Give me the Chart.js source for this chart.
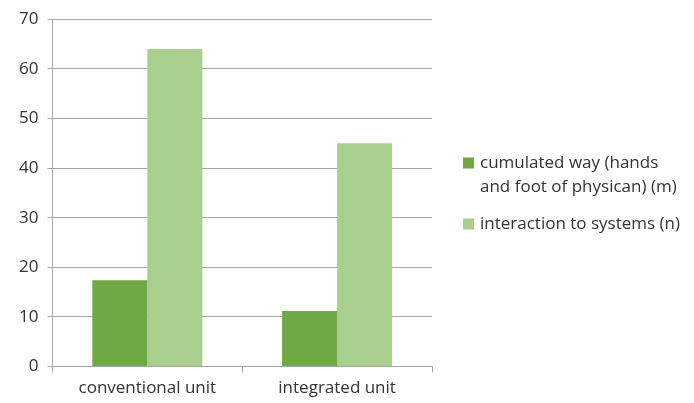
<!DOCTYPE html>
<html>
<head>
<meta charset="utf-8">
<script src="https://cdn.jsdelivr.net/npm/chart.js@4/dist/chart.umd.min.js"></script>
<style>
  html, body { margin: 0; padding: 0; background: #fff; }
  #wrap { width: 694px; height: 403px; }
</style>
</head>
<body>
<div id="wrap"><canvas id="chart" width="694" height="403"></canvas></div>
<script>
// categories and series
const units = ["conventional unit", "integrated unit"];
const wayLabel = ["cumulated way (hands", "and foot of physican) (m)"];
const wayValues = [17.4, 11.2];
const interactionLabel = ["interaction to systems (n)"];
const interactionValues = [64, 45];
const yTicks = [0, 10, 20, 30, 40, 50, 60, 70];

const darkGreen = "#70a845";
const lightGreen = "#a8cf8e";
const gridGray = "#a6a6a6";
const textColor = "#333333";
const fontFamily = "'Open Sans', sans-serif";

// legend on the right: box next to the first line, wrapped lines below
const sideLegend = {
  id: "sideLegend",
  afterDraw(chart) {
    const ctx = chart.ctx;
    const left = chart.chartArea.right + 31;
    const lineH = 24;
    let y = 163;
    ctx.save();
    ctx.font = "17px " + fontFamily;
    ctx.textBaseline = "middle";
    chart.data.datasets.forEach(ds => {
      ctx.fillStyle = ds.backgroundColor;
      ctx.fillRect(left, y - 5.5, 11, 11);
      ctx.fillStyle = textColor;
      ds.label.forEach((line, i) => {
        ctx.fillText(line, left + 17, y + i * lineH);
      });
      y += ds.label.length * lineH + 13;
    });
    ctx.restore();
  }
};

new Chart(document.getElementById("chart"), {
  type: "bar",
  data: {
    labels: units,
    datasets: [
      {
        label: wayLabel,
        data: wayValues,
        backgroundColor: darkGreen,
        categoryPercentage: 0.58,
        barPercentage: 1.0
      },
      {
        label: interactionLabel,
        data: interactionValues,
        backgroundColor: lightGreen,
        categoryPercentage: 0.58,
        barPercentage: 1.0
      }
    ]
  },
  options: {
    responsive: false,
    animation: false,
    layout: { padding: { left: 10, top: 6, right: 262, bottom: 0 } },
    plugins: {
      tooltip: { enabled: false },
      legend: { display: false }
    },
    scales: {
      x: {
        grid: {
          offset: true,
          drawOnChartArea: false,
          color: gridGray,
          tickLength: 6
        },
        border: { color: gridGray },
        ticks: {
          color: textColor,
          font: { size: 17, family: fontFamily },
          padding: 5
        }
      },
      y: {
        min: 0,
        max: 70,
        afterBuildTicks: axis => {
          axis.ticks = yTicks.map(v => ({ value: v }));
        },
        grid: { color: gridGray, tickLength: 5 },
        border: { color: gridGray },
        ticks: {
          color: textColor,
          font: { size: 17, family: fontFamily },
          padding: 9
        }
      }
    }
  },
  plugins: [sideLegend]
});
</script>
</body>
</html>
